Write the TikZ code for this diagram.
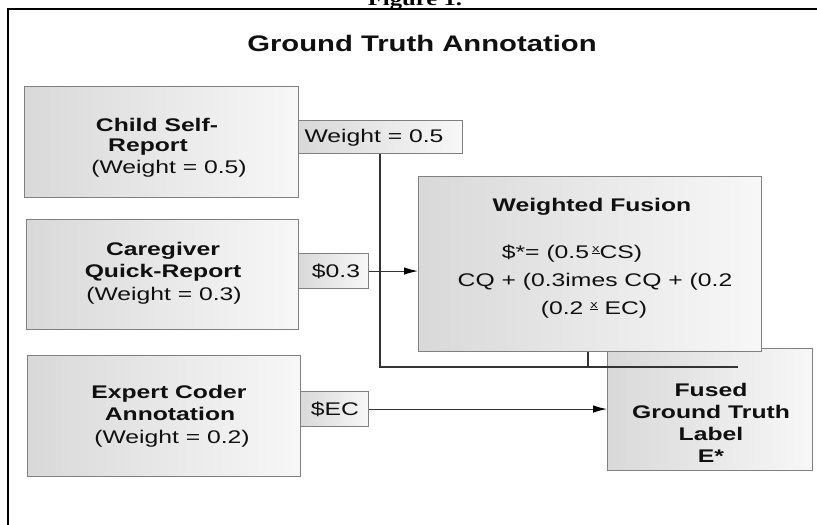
\documentclass[tikz,border=0pt]{standalone}
\usepackage{fontspec}
\setmainfont{Liberation Sans}
\newfontfamily\bodyfont{Liberation Sans}[FakeStretch=1.35]
\newfontfamily\ttlfont{Liberation Sans}[FakeStretch=1.3]
\newfontfamily\figfont{Liberation Serif}[FakeStretch=1.3]
\usetikzlibrary{arrows.meta}
\definecolor{edgegray}{HTML}{808080}
\definecolor{linegray}{HTML}{333333}
\definecolor{txtcol}{HTML}{101010}
\newcommand\tx{\raisebox{0.32em}{\fontsize{11}{11}\selectfont\underline{x}}}
\tikzset{
  box/.style={draw=edgegray, line width=1.1pt, left color=black!15, right color=black!3,
              inner sep=0pt, anchor=north west},
  conn/.style={draw=linegray, line width=1.1pt},
  arr/.style={conn, -{Latex[length=14pt,width=7.5pt,color=black]}},
  txt/.style={inner sep=0pt, anchor=base, text=txtcol, font=\bodyfont\fontsize{18.3}{22}\selectfont},
  btxt/.style={txt, font=\bodyfont\bfseries\fontsize{18.3}{22}\selectfont},
}
\begin{document}
\begin{tikzpicture}[x=1pt, y=-1pt]
\useasboundingbox (0,0) rectangle (817,525);
\fill[white] (0,0) rectangle (817,525);
% frame and caption
\node[inner sep=0pt, anchor=base, font=\figfont\bfseries\fontsize{19}{22}\selectfont] (fig) at (415,5) {Figure 1.};
\draw[black, line width=2pt] (8,525) -- (8,9) -- (817,9);
\node[inner sep=0pt, anchor=base, text=txtcol, font=\ttlfont\bfseries\fontsize{22.5}{26}\selectfont] (title) at (422,51) {Ground Truth Annotation};

% boxes
\node[box, minimum width=205pt, minimum height=122pt] (fu) at (607,348) {};
\node[box, minimum width=274pt, minimum height=111pt] (cs) at (24,86) {};
\node[box, minimum width=272pt, minimum height=110pt] (cq) at (26,219) {};
\node[box, minimum width=273pt, minimum height=121pt] (ec) at (27,355) {};
\node[box, minimum width=343pt, minimum height=175pt] (wf) at (418,176) {};
\node[box, minimum width=164pt, minimum height=33pt] (w5) at (298,120) {};
\node[box, minimum width=70pt, minimum height=35pt] (l3) at (298,253) {};
\node[box, minimum width=68pt, minimum height=35pt] (lec) at (300,391) {};

% connectors
\coordinate (j1) at (380,367);
\coordinate (jwf) at (588,367);
\coordinate (jend) at (738,367);
\draw[conn] (w5.south -| j1) -- (j1) -- (jend);
\draw[conn] (wf.south -| jwf) -- (jwf);
\draw[arr] (l3.east) -- (l3.east -| wf.west);
\draw[arr] (lec.east) -- (lec.east -| fu.west);

% texts
\node[btxt] (cs1) at (157,131) {Child Self-};
\node[btxt] (cs2) at (148,151) {Report};
\node[txt]  (cs3) at (169,173) {(Weight = 0.5)};
\node[txt]  (w5t) at (374,142) {Weight = 0.5};

\node[btxt] (cq1) at (163,255) {Caregiver};
\node[btxt] (cq2) at (163,277) {Quick-Report};
\node[txt]  (cq3) at (164,300) {(Weight = 0.3)};
\node[txt]  (l3t) at (336,277) {\$0.3};

\node[btxt] (ec1) at (169,398) {Expert Coder};
\node[btxt] (ec2) at (170,420) {Annotation};
\node[txt]  (ec3) at (172,443) {(Weight = 0.2)};
\node[txt]  (lect) at (335,415) {\$EC};

\node[btxt] (wf1) at (592,211) {Weighted Fusion};
\node[txt]  (wf2) at (572,258) {\$*= (0.5\,\tx CS)};
\node[txt]  (wf3) at (595,286) {CQ + (0.3imes CQ + (0.2};
\node[txt]  (wf4) at (594,314) {(0.2 \tx\ EC)};

\node[btxt] (fu1) at (711,396) {Fused};
\node[btxt] (fu2) at (711,418) {Ground Truth};
\node[btxt] (fu3) at (711,440) {Label};
\node[btxt] (fu4) at (711,462) {E*};
\end{tikzpicture}
\end{document}
